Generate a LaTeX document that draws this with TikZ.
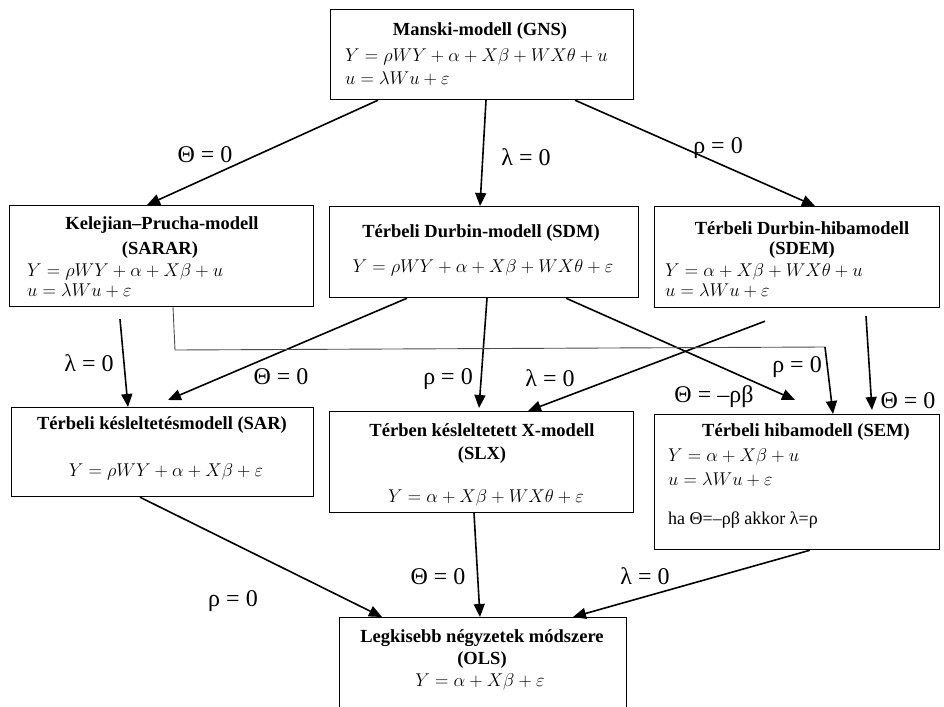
\RequirePackage{fix-cm}
\documentclass[tikz,border=0pt]{standalone}
\usepackage{fontspec}
\setmainfont{Liberation Serif}
\usetikzlibrary{arrows.meta}
\begin{document}
\begin{tikzpicture}[x=1pt,y=-1pt,
  box/.style={draw=black, line width=1.2pt, inner sep=0pt, anchor=north west},
  ttl/.style={font=\rmfamily\fontsize{18.5}{21}\selectfont\bfseries, inner sep=0pt},
  note/.style={font=\rmfamily\fontsize{18}{21}\selectfont, inner sep=0pt, anchor=west},
  eq/.style={font=\fontsize{18.5}{21}\selectfont, inner sep=0pt, anchor=west},
  eqc/.style={font=\fontsize{18.5}{21}\selectfont, inner sep=0pt},
  lbl/.style={font=\rmfamily\fontsize{24}{26}\selectfont, inner sep=0pt},
  arr/.style={line width=1.6pt, -{Triangle[length=13pt,width=11pt]}},
  thinline/.style={line width=0.9pt, draw=black!70},
]
\clip (0,0) rectangle (944,706);
\fill[white] (0,0) rectangle (944,706);

% boxes
\node[box, minimum width=303pt, minimum height=90pt]  (gns)   at (330,9)   {};
\node[box, minimum width=304pt, minimum height=101pt] (sarar) at (9,205)   {};
\node[box, minimum width=309pt, minimum height=91pt]  (sdm)   at (329,206) {};
\node[box, minimum width=285pt, minimum height=101pt] (sdem)  at (654,206) {};
\node[box, minimum width=302pt, minimum height=89pt]  (sar)   at (11,407)  {};
\node[box, minimum width=304pt, minimum height=101pt] (slx)   at (329,411) {};
\node[box, minimum width=285pt, minimum height=135pt] (sem)   at (654,414) {};
\node[box, minimum width=287pt, minimum height=140pt] (ols)   at (339,617) {};

% texts
\node[ttl] (gnsT) at (480,31) {Manski-modell (GNS)};
\node[eq] (gnsA) at (345,57) {$Y = \rho WY + \alpha + X\beta + WX\theta + u$};
\node[eq] (gnsB) at (345,79) {$u = \lambda Wu + \varepsilon$};

\node[ttl] (sararT) at (162,225) {Kelejian–Prucha-modell};
\node[ttl] (sararT2) at (160,250) {(SARAR)};
\node[eq] (sararA) at (27,272) {$Y = \rho WY + \alpha + X\beta + u$};
\node[eq] (sararB) at (27,291) {$u = \lambda Wu + \varepsilon$};

\node[ttl] (sdmT) at (481,233) {Térbeli Durbin-modell (SDM)};
\node[eqc] (sdmA) at (483,268) {$Y = \rho WY + \alpha + X\beta + WX\theta + \varepsilon$};

\node[ttl] (sdemT) at (802,228) {Térbeli Durbin-hibamodell};
\node[ttl] (sdemT2) at (802,250) {(SDEM)};
\node[eq] (sdemA) at (665,272) {$Y = \alpha + X\beta + WX\theta + u$};
\node[eq] (sdemB) at (665,291) {$u = \lambda Wu + \varepsilon$};

\node[ttl] (sarT) at (162,425) {Térbeli késleltetésmodell (SAR)};
\node[eqc] (sarA) at (166,472) {$Y = \rho WY + \alpha + X\beta + \varepsilon$};

\node[ttl] (slxT) at (482,430) {Térben késleltetett X-modell};
\node[ttl] (slxT2) at (482,455) {(SLX)};
\node[eqc] (slxA) at (486,498) {$Y = \alpha + X\beta + WX\theta + \varepsilon$};

\node[ttl] (semT) at (806,432) {Térbeli hibamodell (SEM)};
\node[eq] (semA) at (668,457) {$Y = \alpha + X\beta + u$};
\node[eq] (semB) at (668,480) {$u = \lambda Wu + \varepsilon$};
\node[note] (semN) at (668,520) {ha Θ=–ρβ akkor λ=ρ};

\node[ttl] (olsT) at (482,638) {Legkisebb négyzetek módszere};
\node[ttl] (olsT2) at (482,660) {(OLS)};
\node[eqc] (olsA) at (480,682) {$Y = \alpha + X\beta + \varepsilon$};

% connectors
\draw[arr] ([xshift=48pt]gns.south west) -- ([xshift=138pt]sarar.north west);
\draw[arr] ([xshift=156pt]gns.south west) -- ([xshift=151pt]sdm.north west);
\draw[arr] ([xshift=245pt]gns.south west) -- ([xshift=161pt]sdem.north west);
\draw[arr] ([xshift=111pt,yshift=-12pt]sarar.south west) -- ([xshift=117pt]sar.north west);
\draw[arr] ([xshift=78pt]sdm.south west) -- ([xshift=157pt,yshift=7pt]sar.north west);
\draw[arr] ([xshift=158pt]sdm.south west) -- ([xshift=150pt,yshift=3pt]slx.north west);
\draw[arr] ([xshift=237pt]sdm.south west) -- ([xshift=141pt,yshift=14pt]sem.north west);
\draw[arr] ([xshift=111pt,yshift=-13pt]sdem.south west) -- ([xshift=199pt]slx.north west);
\coordinate (bendA) at (175,350);
\coordinate (bendB) at (825,347);
\draw[thinline] ([xshift=164pt]sarar.south west) -- (bendA) -- (bendB);
\draw[arr] (bendB) -- ([xshift=179pt]sem.north west);
\draw[arr] ([xshift=212pt,yshift=-8pt]sdem.south west) -- ([xshift=218pt,yshift=4pt]sem.north west);
\draw[arr] ([xshift=129pt]sar.south west) -- ([xshift=43pt]ols.north west);
\draw[arr] ([xshift=145pt]slx.south west) -- ([xshift=141pt]ols.north west);
\draw[arr] ([xshift=156pt]sem.south west) -- ([xshift=234pt]ols.north west);

% labels
\node[lbl] (l1) at (205,155) {Θ = 0};
\node[lbl] (l2) at (526,157) {λ = 0};
\node[lbl] (l3) at (718,148) {ρ = 0};
\node[lbl] (l4) at (89,363) {λ = 0};
\node[lbl] (l5) at (281,377) {Θ = 0};
\node[lbl] (l6) at (448,379) {ρ = 0};
\node[lbl] (l7) at (550,378) {λ = 0};
\node[lbl] (l8) at (797,367) {ρ = 0};
\node[lbl] (l9) at (714,397) {Θ = –ρβ};
\node[lbl] (l10) at (908,401) {Θ = 0};
\node[lbl] (l11) at (233,601) {ρ = 0};
\node[lbl] (l12) at (438,577) {Θ = 0};
\node[lbl] (l13) at (645,576) {λ = 0};
\end{tikzpicture}
\end{document}
